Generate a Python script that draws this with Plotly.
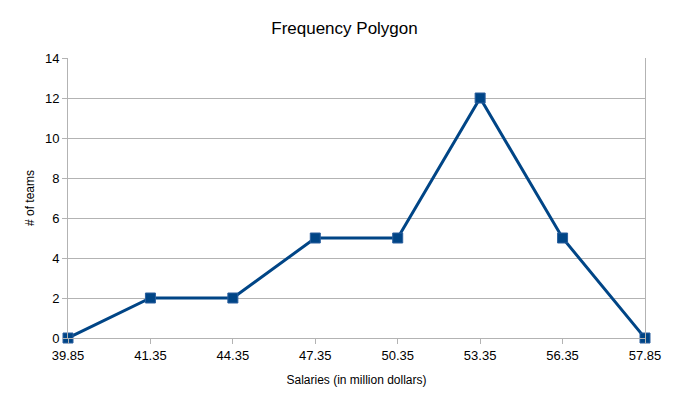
import plotly.graph_objects as go

categories = ["39.85", "41.35", "44.35", "47.35", "50.35", "53.35", "56.35", "57.85"]
teams = [0, 2, 2, 5, 5, 12, 5, 0]
y_ticks = [0, 2, 4, 6, 8, 10, 12, 14]

fig = go.Figure()
fig.add_trace(go.Scatter(
    x=categories, y=teams, mode="lines+markers",
    line=dict(color="#004586", width=3),
    marker=dict(symbol="square", size=10, color="#004586",
                line=dict(color="#2a5f9e", width=1)),
    cliponaxis=False, showlegend=False,
))

font = "Liberation Sans, Arial, sans-serif"
W, H = 673, 400
fig.update_layout(
    width=W, height=H,
    margin=dict(l=60, r=36, t=50, b=70),
    paper_bgcolor="white", plot_bgcolor="white",
    font=dict(family=font, color="#000000", size=13),
    title=dict(text="Frequency Polygon", x=0.5, xanchor="center",
               y=1 - 20 / H, yanchor="middle",
               font=dict(size=17, family=font, color="#000000")),
    xaxis=dict(
        type="category", range=[0, 7], showgrid=False,
        showline=True, linecolor="#b3b3b3", linewidth=1,
        ticks="outside", ticklen=5, tickcolor="#b3b3b3",
        tickfont=dict(size=13), zeroline=False,
        title=dict(text="Salaries (in million dollars)", font=dict(size=12), standoff=14),
    ),
    yaxis=dict(
        range=[0, 14], tickvals=y_ticks, showgrid=True, gridcolor="#b3b3b3",
        showline=True, mirror=True, linecolor="#b3b3b3", linewidth=1,
        ticks="outside", ticklen=5, tickcolor="#b3b3b3",
        tickfont=dict(size=13), zeroline=False,
        title=dict(text="# of teams", font=dict(size=12), standoff=7),
    ),
)

fig.write_html("out.html")
